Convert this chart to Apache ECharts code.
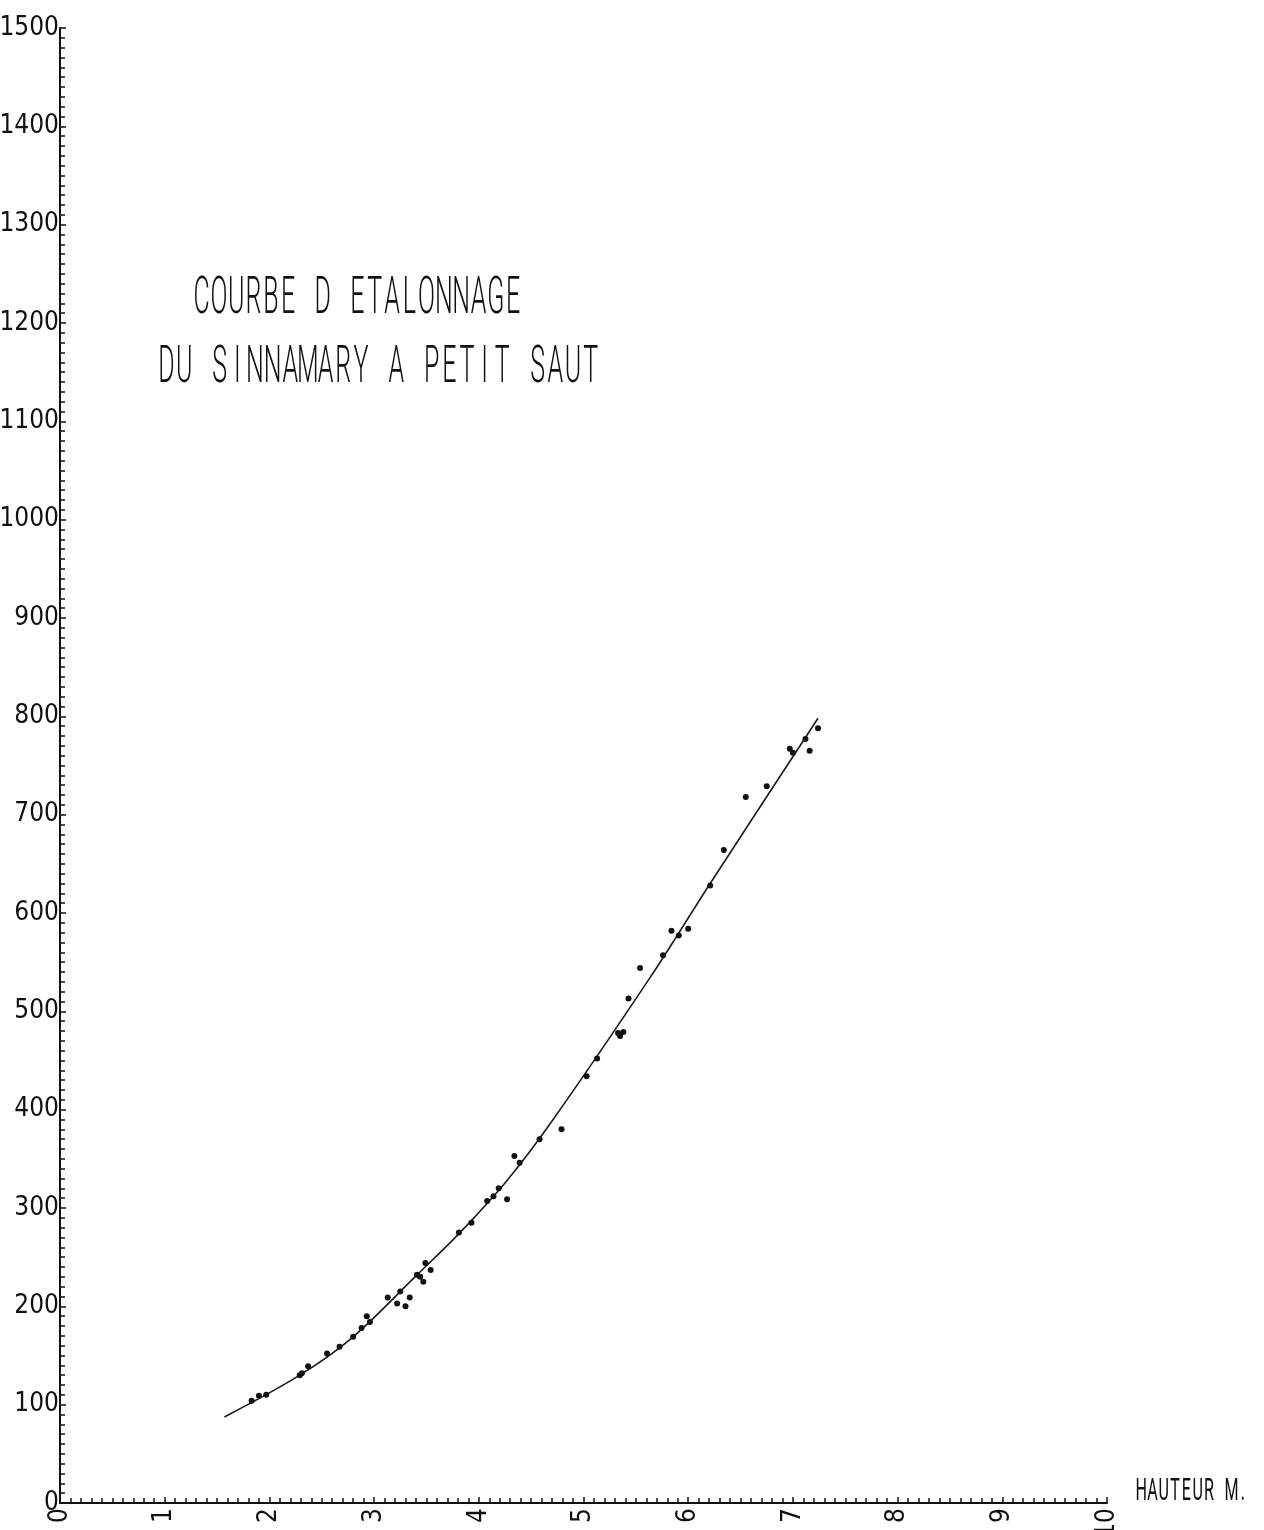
<!DOCTYPE html>
<html>
<head>
<meta charset="utf-8">
<title>Courbe d'étalonnage du Sinnamary à Petit Saut</title>
<script src="https://cdn.jsdelivr.net/npm/echarts@6.0.0/dist/echarts.min.js"></script>
<style>
  html, body { margin: 0; padding: 0; background: #ffffff; }
  #chart { width: 1264px; height: 1530px; }
</style>
</head>
<body>
<div id="chart"></div>
<script>
// Gauge height (m) and discharge of the individual gaugings
const hauteurMesures = [1.83, 1.90, 1.97, 2.29, 2.31, 2.37, 2.55, 2.67, 2.80, 2.88,
  2.93, 2.96, 3.13, 3.22, 3.25, 3.30, 3.34, 3.41, 3.44, 3.47,
  3.49, 3.54, 3.81, 3.93, 4.08, 4.14, 4.19, 4.27, 4.34, 4.39,
  4.58, 4.79, 5.03, 5.13, 5.33, 5.35, 5.38, 5.43, 5.54, 5.76,
  5.84, 5.91, 6.00, 6.21, 6.34, 6.55, 6.75, 6.97, 7.00, 7.12,
  7.16, 7.24];
const debitMesures = [104, 109, 110, 130, 132, 139, 152, 159, 169, 178,
  190, 184, 209, 203, 215, 200, 209, 232, 230, 225,
  244, 237, 275, 285, 307, 312, 320, 309, 353, 346,
  370, 380, 434, 452, 478, 475, 479, 513, 544, 557,
  582, 577, 584, 628, 664, 718, 729, 767, 763, 777,
  765, 788];

// Rating curve vertices (height, discharge)
const hauteurCourbe = [1.57, 2.29, 2.80, 3.41, 3.82, 4.27, 4.71, 5.64, 6.21, 7.24];
const debitCourbe = [87.5, 130, 169, 232, 275, 328, 390, 535, 630, 798];

// Axis ticks and their labels
const xTicks = [0, 1, 2, 3, 4, 5, 6, 7, 8, 9, 10];
const xTickLabels = ['0', '1', '2', '3', '4', '5', '6', '7', '8', '9', '10'];
const yTicks = [0, 100, 200, 300, 400, 500, 600, 700, 800, 900, 1000, 1100, 1200, 1300, 1400, 1500];
const yTickLabels = ['0', '100', '200', '300', '400', '500', '600', '700', '800', '900',
  '1000', '1100', '1200', '1300', '1400', '1500'];

const titreLignes = ['COURBE D ETALONNAGE', 'DU SINNAMARY A PETIT SAUT'];
const nomAxeX = 'HAUTEUR M.';

const INK = '#111111';
const FONT_FAMILY = "'DejaVu Sans Condensed', Roboto, 'Noto Sans', sans-serif";

const zip = (a, b) => a.map((v, i) => [v, b[i]]);
const labelFor = (ticks, labels) => v => {
  const i = ticks.findIndex(t => Math.abs(t - v) < 1e-9);
  return i >= 0 ? labels[i] : '';
};

// Plotter-style lettering: every character sits in a fixed-width cell,
// each glyph horizontally compressed around the cell centre.
function plotterText(text, left, centerY, cell, size, squeeze, weight) {
  const font = (weight || 300) + ' ' + size + 'px Roboto, sans-serif';
  return {
    type: 'group',
    silent: true,
    children: Array.from(text).map((ch, i) => ({
      type: 'text',
      x: left + cell * (i + 0.5),
      y: centerY,
      scaleX: squeeze,
      style: {
        text: ch,
        font: font,
        fill: INK,
        align: 'center',
        verticalAlign: 'middle'
      }
    }))
  };
}

const chart = echarts.init(document.getElementById('chart'), null, { renderer: 'canvas' });

const axisCommon = {
  type: 'value',
  splitLine: { show: false },
  axisLine: { show: true, onZero: false, lineStyle: { color: INK, width: 2 } },
  axisTick: { show: true, inside: true, length: 6, lineStyle: { color: INK, width: 1.5 } },
  minorTick: { show: true, splitNumber: 10, length: 5, lineStyle: { color: INK, width: 1.5 } },
  minorSplitLine: { show: false }
};

chart.setOption({
  animation: false,
  backgroundColor: '#ffffff',
  grid: { left: 60, right: 157, top: 28, bottom: 27, containLabel: false, outerBoundsMode: 'none' },
  xAxis: Object.assign({}, axisCommon, {
    min: 0,
    max: 10,
    interval: 1,
    axisLabel: {
      show: true,
      rotate: 90,
      margin: 5,
      color: INK,
      fontFamily: FONT_FAMILY,
      fontSize: 26,
      fontWeight: 300,
      formatter: labelFor(xTicks, xTickLabels)
    }
  }),
  yAxis: Object.assign({}, axisCommon, {
    min: 0,
    max: 1500,
    interval: 100,
    axisLabel: {
      show: true,
      margin: 1,
      color: INK,
      fontFamily: FONT_FAMILY,
      fontSize: 26,
      fontWeight: 300,
      formatter: labelFor(yTicks, yTickLabels)
    }
  }),
  series: [
    {
      name: 'Courbe',
      type: 'line',
      data: zip(hauteurCourbe, debitCourbe),
      smooth: 0.35,
      showSymbol: false,
      symbol: 'none',
      lineStyle: { color: '#1a1a1a', width: 1.6 },
      z: 2
    },
    {
      name: 'Jaugeages',
      type: 'scatter',
      data: zip(hauteurMesures, debitMesures),
      symbol: 'circle',
      symbolSize: 6,
      itemStyle: { color: INK, opacity: 1 },
      z: 3
    }
  ],
  graphic: [
    plotterText(titreLignes[0], 193, 300, 17.3, 52, 0.48),
    plotterText(titreLignes[1], 157.7, 369, 17.67, 52, 0.48),
    plotterText(nomAxeX, 1135.5, 1492, 11.3, 31, 0.52, 400)
  ]
});
</script>
</body>
</html>
